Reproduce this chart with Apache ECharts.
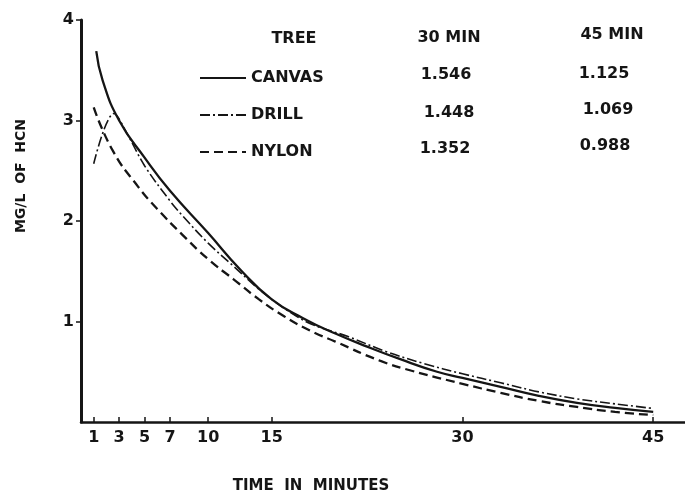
<!DOCTYPE html>
<html>
<head>
<meta charset="utf-8">
<script src="https://cdn.jsdelivr.net/npm/echarts@6/dist/echarts.min.js"></script>
<style>
  html, body { margin: 0; padding: 0; background: #fff; }
  #chart { width: 685px; height: 495px; }
</style>
</head>
<body>
<div id="chart"></div>
<script>
// tick values
const xTicks = [1, 3, 5, 7, 10, 15, 30, 45];
const yTicks = [1, 2, 3, 4];

// [minutes, mg/l]
const canvasData = [
  [1.2, 3.69], [1.7, 3.40], [3, 3.00], [5, 2.63], [7, 2.30], [10, 1.88],
  [12.5, 1.52], [15, 1.22], [17.5, 1.03], [20, 0.88], [22.5, 0.75],
  [25, 0.63], [28, 0.50], [30, 0.44], [33, 0.35], [36, 0.26], [39, 0.19],
  [42, 0.14], [45, 0.10]
];
const drillData = [
  [1, 2.57], [2.6, 3.07], [3.5, 2.90], [5, 2.55], [7, 2.20], [8, 2.05],
  [10, 1.78], [12, 1.55], [14, 1.32], [16, 1.13], [18, 0.98], [21, 0.85],
  [24, 0.70], [27, 0.58], [30, 0.48], [33, 0.39], [36, 0.30], [39, 0.23],
  [42, 0.18], [45, 0.135]
];
const nylonData = [
  [1, 3.13], [2.5, 2.70], [4.5, 2.34], [6, 2.12], [8, 1.86], [10, 1.62],
  [12, 1.42], [14, 1.22], [16, 1.05], [18, 0.91], [20, 0.80], [23.5, 0.61],
  [26, 0.51], [30, 0.38], [33, 0.29], [36, 0.21], [39, 0.15], [42, 0.10],
  [45, 0.07]
];

// table in the upper right
const tableHead = ['TREE', '30 MIN', '45 MIN'];
const treeNames = ['CANVAS', 'DRILL', 'NYLON'];
const at30 = ['1.546', '1.448', '1.352'];
const at45 = ['1.125', '1.069', '0.988'];

const ink = '#151515';
const font = '"DejaVu Sans", sans-serif';

const chart = echarts.init(document.getElementById('chart'));

const txt = (text, x, y, size, align) => ({
  type: 'text',
  x: x,
  y: y,
  style: {
    text: text,
    fill: ink,
    font: 'bold ' + size + 'px ' + font,
    textAlign: align || 'center',
    textVerticalAlign: 'middle'
  }
});

const graphics = [
  txt(tableHead[0], 294, 39, 16),
  txt(tableHead[1], 449, 38, 16),
  txt(tableHead[2], 612, 35, 16),
  txt(at30[0], 446, 75, 16), txt(at45[0], 604, 74, 16),
  txt(at30[1], 449, 113, 16), txt(at45[1], 608, 110, 16),
  txt(at30[2], 445, 149, 16), txt(at45[2], 605, 146, 16),
  txt('TIME  IN  MINUTES', 311, 486, 15),
  Object.assign(txt('MG/L  OF  HCN', 21, 176, 14), { rotation: Math.PI / 2 })
];

const baseLine = { color: ink, width: 2.2 };

chart.setOption({
  animation: false,
  backgroundColor: '#fff',
  color: [ink, ink, ink],
  grid: { left: 81, right: 0, top: 20, bottom: 73 },
  legend: {
    orient: 'vertical',
    left: 194,
    top: 65,
    itemWidth: 46,
    itemHeight: 14,
    itemGap: 21,
    itemStyle: { opacity: 0 },
    textStyle: {
      color: ink, fontSize: 16, fontWeight: 'bold', fontFamily: font
    },
    data: treeNames
  },
  xAxis: {
    type: 'value',
    min: 0,
    max: 47.5,
    axisLine: { lineStyle: { color: ink, width: 2.5 } },
    axisTick: { customValues: xTicks, inside: true, length: 5, lineStyle: { color: ink, width: 1.5 } },
    axisLabel: { customValues: xTicks, color: ink, fontSize: 16, fontWeight: 'bold', fontFamily: font, margin: 8 },
    splitLine: { show: false }
  },
  yAxis: {
    type: 'value',
    min: 0,
    max: 4,
    axisLine: { show: true, lineStyle: { color: ink, width: 3 } },
    axisTick: { show: true, customValues: yTicks, length: 5, lineStyle: { color: ink, width: 1.5 } },
    axisLabel: { customValues: yTicks, color: ink, fontSize: 16, fontWeight: 'bold', fontFamily: font, margin: 7 },
    splitLine: { show: false }
  },
  graphic: graphics,
  series: [
    {
      name: treeNames[0], type: 'line', data: canvasData, smooth: 0.5,
      symbol: 'none', itemStyle: { color: ink },
      lineStyle: Object.assign({}, baseLine, { width: 2.3 })
    },
    {
      name: treeNames[1], type: 'line', data: drillData, smooth: 0.35,
      symbol: 'none', itemStyle: { color: ink },
      lineStyle: Object.assign({}, baseLine, { width: 1.6, type: [10, 3, 2, 3] })
    },
    {
      name: treeNames[2], type: 'line', data: nylonData, smooth: 0.5,
      symbol: 'none', itemStyle: { color: ink },
      lineStyle: Object.assign({}, baseLine, { width: 2.3, type: [9, 5] })
    }
  ]
});
</script>
</body>
</html>
